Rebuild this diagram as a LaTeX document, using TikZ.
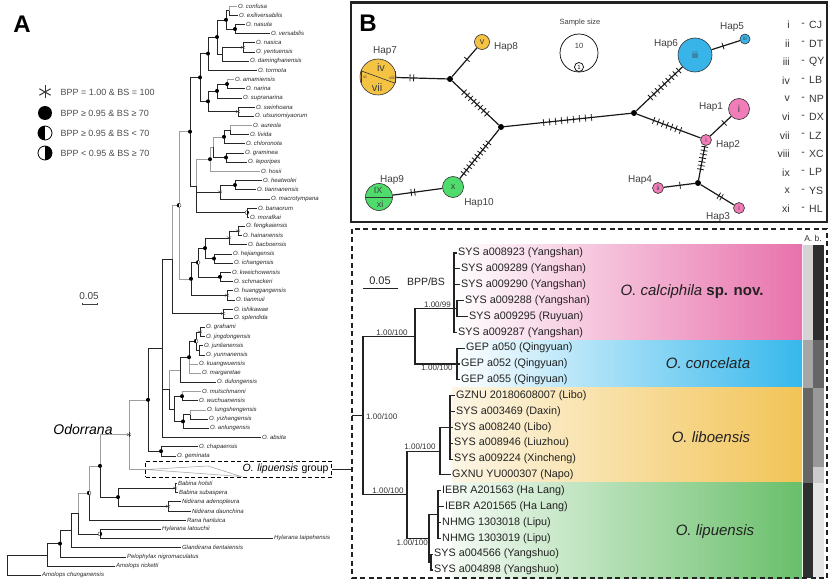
\documentclass[tikz,border=0pt]{standalone}
\usepackage{fontspec}
\setmainfont{Liberation Sans}
\usetikzlibrary{positioning,calc}

\definecolor{hapY}{HTML}{F5C344}
\definecolor{hapB}{HTML}{38B4E8}
\definecolor{hapP}{HTML}{F07CB8}
\definecolor{hapG}{HTML}{4FDC6C}
\definecolor{bandP}{HTML}{E872AC}
\definecolor{bandB}{HTML}{36B8EC}
\definecolor{bandO}{HTML}{F2C457}
\definecolor{bandG}{HTML}{69BF6A}
\definecolor{inkD}{HTML}{222222}

\tikzset{
  br/.style={line width=.5pt, black!85},
  gbr/.style={line width=.5pt, black!38},
  tbr/.style={line width=1.1pt, inkD},
  tipl/.style={anchor=west, inner sep=.8pt, font=\fontsize{6}{7}\selectfont\itshape, text=black!85},
  seql/.style={anchor=west, inner sep=1pt, font=\fontsize{10.8}{11}\selectfont, text=inkD},
  supl/.style={inner sep=1pt, font=\fontsize{8}{8}\selectfont, text=black!80},
  pdot/.style={circle, fill=black, inner sep=0pt, minimum size=4pt},
  phl/.style={circle, draw=black, line width=.3pt, fill=white, inner sep=0pt, minimum size=4pt,
    path picture={\fill[black] (path picture bounding box.north) rectangle (path picture bounding box.south west);}},
  phr/.style={circle, draw=black, line width=.3pt, fill=white, inner sep=0pt, minimum size=4pt,
    path picture={\fill[black] (path picture bounding box.north) rectangle (path picture bounding box.south east);}},
  astk/.pic={\foreach \a in {90,30,150}{\draw[line width=.35pt, black!80] (\a:2.4pt) -- (\a+180:2.4pt);}},
  astbig/.pic={\foreach \a in {90,30,150}{\draw[line width=1pt, black!80] (\a:6.5pt) -- (\a+180:6.5pt);}},
  legt/.style={anchor=west, font=\fontsize{9}{10}\selectfont, text=black!70},
  hap/.style={circle, draw=black!80, line width=.6pt, inner sep=0pt, font=\fontsize{9}{9}\selectfont, text=black!75},
  jdot/.style={circle, fill=black, inner sep=0pt, minimum size=6pt},
  hedge/.style={line width=1.2pt, black!90},
  mutk/.style={line width=.8pt, black!90},
  hapl/.style={font=\fontsize{10}{10}\selectfont, text=black!75, inner sep=1pt},
  rom/.style={font=\fontsize{10.5}{11}\selectfont, text=black!80, inner sep=1pt},
  spl/.style={font=\fontsize{15}{15}\selectfont, text=inkD},
}

% ticks for mutation steps along an edge
\newcommand{\mutbar}[5]{%
  \foreach \k in {1,...,#3}{%
    \pgfmathsetmacro{\pp}{#4+(\k-(#3+1)/2)*#5}%
    \draw[mutk] ($(#1)!\pp!(#2)!3.5pt!90:(#2)$) -- ($(#1)!\pp!(#2)!3.5pt!-90:(#2)$);}}

\begin{document}
\begin{tikzpicture}[x=1pt, y=-1pt]
\useasboundingbox (0,0) rectangle (831,583);

%%% panel A
\node[font=\fontsize{24}{24}\selectfont\bfseries] (labA) at (22,24) {A};

% legend
\pic (lgast) at (45,92) {astbig};
\node[pdot, minimum size=14pt] (lgdot) at (45,113) {};
\node[phl, minimum size=14pt, line width=.8pt] (lghl) at (45,133) {};
\node[phr, minimum size=14pt, line width=.8pt] (lghr) at (45,153) {};
\node[legt] (lgt1) at (57,92) {BPP = 1.00 \& BS = 100};
\node[legt] (lgt2) at (57,113) {BPP ≥ 0.95 \& BS ≥ 70};
\node[legt] (lgt3) at (57,133) {BPP ≥ 0.95 \& BS < 70};
\node[legt] (lgt4) at (57,153) {BPP < 0.95 \& BS ≥ 70};

% scale bar
\node[font=\fontsize{10}{10}\selectfont, text=black!75] (sbA) at (89,296) {0.05};
\draw[line width=.6pt, black!75] (82,302.5) -- (82,304.5) -- (97,304.5) -- (97,302.5);

% tips
\foreach \i/\x/\lab in {1/237/O. confusa, 2/238/O. exiliversabilis, 3/245/O. nasuta,
  4/270/O. versabilis, 5/255/O. nasica, 6/255/O. yentuensis, 7/249/O. daminghanensis,
  8/257/O. tormota, 9/234/O. amamiensis, 10/245/O. narina, 11/242/O. supranarina,
  12/255/O. swinhoana, 13/254/O. utsunomiyaorum, 14/252/O. aureola, 15/249/O. livida,
  16/245/O. chloronota, 17/244/O. graminea, 18/247/O. leporipes, 19/260/O. hosii,
  20/262/O. heatwolei, 21/256/O. tiannanensis, 22/270/O. macrotympana, 23/257/O. banaorum,
  24/249/O. morafkai, 25/245/O. fengkaiensis, 26/242/O. hainanensis, 27/247/O. bacboensis,
  28/232/O. hejiangensis, 29/233/O. ichangensis, 30/231/O. kweichowensis, 31/233/O. schmackeri,
  32/233/O. huanggangensis, 33/235/O. tianmuii, 34/233/O. ishikawae, 35/233/O. splendida,
  36/205/O. grahami, 37/205/O. jingdongensis, 38/203/O. junlianensis, 39/205/O. yunnanensis,
  40/198/O. kuangwuensis, 41/201/O. margaretae, 42/216/O. dulongensis, 43/201/O. mutschmanni,
  44/198/O. wuchuanensis, 45/206/O. lungshengensis, 46/208/O. yizhangensis, 47/209/O. anlungensis,
  48/261/O. absita, 49/198/O. chapaensis, 50/176/O. geminata}
  \node[tipl] (t\i) at (\x,{6+(\i-1)*9.18}) {\lab};
\foreach \i/\x/\lab in {52/177/Babina holsti, 53/178/Babina subaspera, 54/181/Nidirana adenopleura,
  55/191/Nidirana daunchina, 56/186/Rana hanluica, 57/161/Hylarana latouchii,
  58/273/Hylarana taipehensis, 59/181/Glandirana tientaiensis, 60/126/Pelophylax nigromaculatus,
  61/115/Amolops ricketti, 62/41/Amolops chunganensis}
  \node[tipl] (t\i) at (\x,{6+\i*9.18}) {\lab};

% internal nodes
\coordinate (a1) at (229,10.6);  \coordinate (a2) at (235,29.0);  \coordinate (a3) at (226,19.8);
\coordinate (ny) at (243,47.3);  \coordinate (a5) at (222,54.2);  \coordinate (a4) at (217,37.0);
\coordinate (a6) at (208,53.6);  \coordinate (b1) at (227,84.0);  \coordinate (b2) at (217,90.9);
\coordinate (b3) at (238,111.6); \coordinate (b4) at (208,101.3); \coordinate (c1) at (200,77.4);
\coordinate (d1) at (230,129.9); \coordinate (d2) at (224,136.8); \coordinate (d3) at (226,157.5);
\coordinate (d4) at (213,147.1); \coordinate (d5) at (210,159.2); \coordinate (d6) at (235,185.0);
\coordinate (d7) at (220,191.9); \coordinate (d8) at (247,212.6); \coordinate (d9) at (196,185.9);
\coordinate (c2) at (190,131.7); \coordinate (f1) at (238,230.9); \coordinate (f2) at (229,237.8);
\coordinate (f3) at (214,258.5); \coordinate (f4) at (205,248.1); \coordinate (f5) at (220,276.8);
\coordinate (f6) at (198,262.5); \coordinate (f7) at (227,295.2); \coordinate (f8) at (191,278.8);
\coordinate (e1) at (179,205.3); \coordinate (g1) at (223,313.5); \coordinate (U1) at (172,259.4);
\coordinate (gj) at (200,331.9); \coordinate (jy) at (199,350.3); \coordinate (gjjy) at (196,341.1);
\coordinate (K) at (189,357.2);  \coordinate (D) at (180,369.8);  \coordinate (MW) at (182,396.2);
\coordinate (LY) at (190,414.5); \coordinate (LYA) at (183,421.4); \coordinate (MWLYA) at (174,408.8);
\coordinate (G) at (169,389.3);  \coordinate (P) at (162,348.4);  \coordinate (CG) at (161,451.2);
\coordinate (M) at (148,399.8);  \coordinate (lip) at (146,469.5); \coordinate (Odo) at (129,434.7);
\coordinate (Bab) at (175,488.0); \coordinate (Nid) at (168,506.3); \coordinate (BN) at (118,497.1);
\coordinate (N7) at (100,465.9); \coordinate (N6) at (89,493.0);  \coordinate (Hyl) at (100,533.9);
\coordinate (N4) at (78,513.4);  \coordinate (N3) at (71,530.5);  \coordinate (N2) at (60,543.6);
\coordinate (N1) at (47,554.8);  \coordinate (root) at (7,565.0);

% branches
\foreach \p/\c in {a1/t2, a2/t3, a2/t4, a3/a1, a3/a2, ny/t5, ny/t6, a5/ny, a5/t7, a4/a3, a4/a5,
  a6/a4, a6/t8, b1/t10, b2/b1, b2/t11, b3/t12, b3/t13, b4/b2, b4/b3, c1/a6, c1/b4,
  d1/t15, d2/d1, d2/t16, d3/t17, d3/t18, d4/d3, d6/t20, d6/t21, d7/d6, d7/t22,
  d8/t23, d8/t24, d9/d7, d9/d8, c2/c1, c2/d9, f1/t25, f1/t26, f2/f1, f2/t27, f3/t28, f3/t29,
  f4/f2, f4/f3, f5/t30, f5/t31, f6/f4, f6/f5, f7/t32, f7/t33, f8/f6, f8/f7, g1/t34, g1/t35,
  U1/g1, gj/t36, gj/t37, jy/t38, jy/t39, gjjy/gj, gjjy/jy, K/gjjy, D/K, D/t42,
  MW/t44, LY/t46, LYA/LY, LYA/t47, MWLYA/MW, MWLYA/LYA, G/MWLYA, P/U1, P/G, P/t48,
  CG/t49, CG/t50, M/P, M/CG, Bab/t52, Bab/t53, Nid/t54, Nid/t55, BN/Bab, BN/Nid,
  N7/BN, N6/t56, Hyl/t57, Hyl/t58, N4/Hyl, N3/N4, N3/t59, N2/N3, N2/t60,
  N1/N2, N1/t61, root/N1, root/t62}
  \draw[br] (\p) |- (\c);
\foreach \p/\c in {a1/t1, b1/t9, d1/t14, d4/d2, d5/d4, d5/t19, d9/d5, e1/c2, e1/f8, U1/e1,
  K/t40, K/t41, G/D, MW/t43, LY/t45, N7/Odo, Odo/M, Odo/lip, N6/N7, N4/N6}
  \draw[gbr] (\p) |- (\c);

% collapsed clade
\draw[gbr] (lip) -- (208,466) -- (241,476.5) -- cycle;
\node[draw, dashed, line width=.9pt, dash pattern=on 4pt off 2.5pt, minimum height=16pt,
  text width=180pt, align=right, inner sep=3pt, font=\fontsize{10.5}{11}\selectfont]
  (grp) at (238.5,469) {\textit{O. lipuensis} group};

% support markers
\foreach \n in {a2,a3,a4,a6,b1,b2,b4,c1,c2,d2,d3,d5,d6,f3,f4,f5,f8,K,MW,LYA,CG,M,BN,N7,N2}
  \node[pdot] (m\n) at (\n) {};
\foreach \n in {ny,b3,d7,f1,f2,f7,g1,gj,Odo,Bab,Nid}
  \pic (s\n) at (\n) {astk};
\foreach \n in {e1,f6,gjjy,N6}
  \node[phl] (m\n) at (\n) {};
\foreach \n in {d8,Hyl}
  \node[phr] (m\n) at (\n) {};

\node[font=\fontsize{14}{14}\selectfont\itshape] (odolab) at (83,429) {Odorrana};

%%% panel B
\draw[line width=2.8pt, inkD] (351,2.5) rectangle (827,222);
\node[font=\fontsize{24}{24}\selectfont\bfseries] (labB) at (368,23) {B};

\node[hap, fill=hapY, minimum size=36pt] (hap7) at (378,77) {};
\node[hap, fill=hapY, minimum size=15pt] (hap8) at (482,42) {v};
\node[jdot] (j1) at (450,79) {};
\node[jdot] (j2) at (501,127) {};
\node[hap, fill=hapG, minimum size=21pt] (hap10) at (453,187) {x};
\node[hap, fill=hapG, minimum size=27pt] (hap9) at (379,197) {};
\node[jdot] (j3) at (634,113) {};
\node[hap, fill=hapB, minimum size=34pt] (hap6) at (695,55) {iii};
\node[hap, fill=hapB, minimum size=10pt, font=\fontsize{5}{5}\selectfont] (hap5) at (745,39) {iii};
\node[hap, fill=hapP, minimum size=21pt, font=\fontsize{10}{10}\selectfont] (hap1) at (739,109) {i};
\node[hap, fill=hapP, minimum size=11pt, font=\fontsize{6.5}{6.5}\selectfont] (hap2) at (706,140) {i};
\node[jdot] (j4) at (698,183) {};
\node[hap, fill=hapP, minimum size=11pt, font=\fontsize{6.5}{6.5}\selectfont] (hap4) at (658,188) {ii};
\node[hap, fill=hapP, minimum size=11pt, font=\fontsize{6.5}{6.5}\selectfont] (hap3) at (739,208) {i};

% pie slices
\draw[line width=.6pt, black!80] (hap7.160) -- (hap7.340);
\draw[line width=.5pt, black!80] (hap7.160) -- (hap7.200);
\draw[line width=.5pt, black!80] (hap7.340) -- (hap7.20);
\node[font=\fontsize{11}{11}\selectfont, text=black!75] (p7a) at (381,68) {iv};
\node[font=\fontsize{11}{11}\selectfont, text=black!75] (p7b) at (377,88) {vii};
\node[font=\fontsize{4.5}{4.5}\selectfont, text=black!75] (p7c) at (365,77) {vi};
\node[font=\fontsize{4.5}{4.5}\selectfont, text=black!75] (p7d) at (392,78) {viii};
\draw[line width=.6pt, black!80] (hap9.west) -- (hap9.east);
\node[font=\fontsize{9}{9}\selectfont, text=black!75] (p9a) at (378,190) {IX};
\node[font=\fontsize{9}{9}\selectfont, text=black!75] (p9b) at (380,204) {xi};

% network edges
\draw[hedge] (hap7) -- (j1);
\draw[hedge] (j1) -- (hap8);
\draw[hedge] (j1) -- (j2);
\draw[hedge] (j2) -- (hap10);
\draw[hedge] (hap10) -- (hap9);
\draw[hedge] (j2) -- (j3);
\draw[hedge] (j3) -- (hap6);
\draw[hedge] (hap6) -- (hap5);
\draw[hedge] (j3) -- (hap2);
\draw[hedge] (hap2) -- (hap1);
\draw[hedge] (hap2) -- (j4);
\draw[hedge] (j4) -- (hap4);
\draw[hedge] (j4) -- (hap3);

\mutbar{hap7}{j1}{2}{0.47}{0.05}
\mutbar{j1}{hap8}{1}{0.53}{0}
\mutbar{j1}{j2}{8}{0.5}{0.064}
\mutbar{j2}{hap10}{10}{0.52}{0.057}
\mutbar{hap10}{hap9}{2}{0.54}{0.047}
\mutbar{j2}{j3}{9}{0.5}{0.045}
\mutbar{j3}{hap6}{9}{0.5}{0.058}
\mutbar{hap6}{hap5}{1}{0.56}{0}
\mutbar{j3}{hap2}{7}{0.46}{0.062}
\mutbar{hap2}{hap1}{1}{0.55}{0}
\mutbar{hap2}{j4}{7}{0.42}{0.087}
\mutbar{j4}{hap4}{1}{0.45}{0}
\mutbar{j4}{hap3}{2}{0.54}{0.065}

% haplotype labels
\node[hapl] (l7) at (385,51) {Hap7};
\node[hapl] (l8) at (506,47) {Hap8};
\node[hapl] (l9) at (392,180) {Hap9};
\node[hapl] (l10) at (479,203) {Hap10};
\node[hapl] (l6) at (666,44) {Hap6};
\node[hapl] (l5) at (732,27) {Hap5};
\node[hapl] (l1) at (711,107) {Hap1};
\node[hapl] (l2) at (728,145) {Hap2};
\node[hapl] (l4) at (640,180) {Hap4};
\node[hapl] (l3) at (718,217) {Hap3};

% sample size
\node[font=\fontsize{7.5}{8}\selectfont, text=black!75] (sslab) at (580,23) {Sample size};
\node[circle, draw, line width=.7pt, minimum size=38pt, inner sep=0pt] (ss10) at (579,53) {};
\node[font=\fontsize{7.5}{7.5}\selectfont, text=black!75] (ss10t) at (579,46) {10};
\node[circle, draw, line width=.7pt, minimum size=9pt, inner sep=0pt, font=\fontsize{6}{6}\selectfont] (ss1) at (579,67) {1};

% population key
\foreach \i/\r/\c in {0/i/CJ, 1/ii/DT, 2/iii/QY, 3/iv/LB, 4/v/NP, 5/vi/DX, 6/vii/LZ, 7/viii/XC, 8/ix/LP, 9/x/YS, 10/xi/HL}{
  \node[rom, anchor=east] (rn\i) at (791,{25+\i*18.4}) {\r};
  \node[rom] (rd\i) at (803,{25+\i*18.4}) {-};
  \node[rom, anchor=west] (rc\i) at (808,{25+\i*18.4}) {\c};
}

%%% lower right tree
\shade[left color=white, right color=bandP] (452,245) rectangle (802,340.2);
\shade[left color=white, right color=bandB] (452,340.2) rectangle (802,387.8);
\shade[left color=bandO!15, right color=bandO] (452,387.8) rectangle (802,482.9);
\shade[left color=bandG!8, right color=bandG] (452,482.9) rectangle (802,578);
\fill[black!17] (802.5,245) rectangle (813,340.2);
\fill[black!82] (813,245) rectangle (823.5,340.2);
\fill[black!35] (802.5,340.2) rectangle (813,387.8);
\fill[black!60] (813,340.2) rectangle (823.5,387.8);
\fill[black!60] (802.5,387.8) rectangle (813,482.9);
\fill[black!40] (813,387.8) rectangle (823.5,467);
\fill[black!20] (813,467) rectangle (823.5,482.9);
\fill[black!82] (802.5,482.9) rectangle (813,578);
\fill[black!10] (813,482.9) rectangle (823.5,578);
\node[font=\fontsize{8.5}{9}\selectfont, text=black!80] (abhd) at (813,238) {A. b.};

\node[spl] (sp1) at (692,292) {\textit{O. calciphila} \textbf{sp. nov.}};
\node[spl] (sp2) at (708,363) {\textit{O. concelata}};
\node[spl] (sp3) at (711,437) {\textit{O. liboensis}};
\node[spl] (sp4) at (715,532) {\textit{O. lipuensis}};

\foreach \i/\x/\lab in {1/457/SYS a008923 (Yangshan), 2/460/SYS a009289 (Yangshan),
  3/460/SYS a009290 (Yangshan), 4/464/SYS a009288 (Yangshan), 5/468/SYS a009295 (Ruyuan),
  6/457/SYS a009287 (Yangshan), 7/465/GEP a050 (Qingyuan), 8/460/GEP a052 (Qingyuan),
  9/460/GEP a055 (Qingyuan), 10/455/GZNU 20180608007 (Libo), 11/455/SYS a003469 (Daxin),
  12/453/SYS a008240 (Libo), 13/453/SYS a008946 (Liuzhou), 14/453/SYS a009224 (Xincheng),
  15/451/GXNU YU000307 (Napo), 16/441/IEBR A201563 (Ha Lang), 17/444/IEBR A201565 (Ha Lang),
  18/441/NHMG 1303018 (Lipu), 19/441/NHMG 1303019 (Lipu), 20/433/SYS a004566 (Yangshuo),
  21/433/SYS a004898 (Yangshuo)}
  \node[seql] (s\i) at (\x,{253+(\i-1)*15.85}) {\lab};

\coordinate (Cal) at (454,308.5);  \coordinate (Sub) at (457,308.5);
\coordinate (Con) at (457,364.0);  \coordinate (C1) at (415,336.3);
\coordinate (Lib1) at (450,427.4); \coordinate (Lib) at (440,451.1);
\coordinate (Lip1) at (438,514.6); \coordinate (SY) at (431,562.1);
\coordinate (Lip) at (429,538.3);  \coordinate (C2) at (407,494.7);
\coordinate (R) at (363,415.5);    \coordinate (Rin) at (352,415.5);

\foreach \p/\c in {Cal/s1, Cal/s2, Cal/s3, Cal/Sub, Cal/s6, Sub/s4, Sub/s5, Con/s7, Con/s8, Con/s9,
  C1/Cal, C1/Con, Lib1/s10, Lib1/s11, Lib1/s12, Lib1/s13, Lib1/s14, Lib/Lib1, Lib/s15,
  Lip1/s16, Lip1/s17, Lip1/s18, Lip1/s19, SY/s20, SY/s21, Lip/Lip1, Lip/SY,
  C2/Lib, C2/Lip, R/C1, R/C2}
  \draw[tbr] (\p) |- (\c);
\draw[tbr] (Rin) -- (R);

\node[supl, anchor=west] (bsR) at (365,417) {1.00/100};
\node[supl, anchor=south] (bsC1) at (392,336.3) {1.00/100};
\node[supl, anchor=south east] (bsCal) at (452,308.5) {1.00/99};
\node[supl, anchor=north] (bsCon) at (437,364) {1.00/100};
\node[supl, anchor=south] (bsC2) at (388,494.7) {1.00/100};
\node[supl, anchor=south] (bsLib) at (420,451.1) {1.00/100};
\node[supl, anchor=north east] (bsLip) at (429,538.8) {1.00/100};

\node[font=\fontsize{11}{11}\selectfont, text=inkD] (sbB) at (380,281) {0.05};
\draw[line width=.9pt, inkD] (363,288) -- (398,288);
\node[font=\fontsize{10.5}{11}\selectfont, text=inkD] (bppbs) at (426,282) {BPP/BS};

\draw[line width=1.8pt, inkD, dash pattern=on 5pt off 3.5pt] (352,229) rectangle (827,578);

% link from collapsed group
\coordinate (grpin) at (352,469);
\draw[br, line width=.8pt] (grp.east) -- (grpin);
\end{tikzpicture}
\end{document}
